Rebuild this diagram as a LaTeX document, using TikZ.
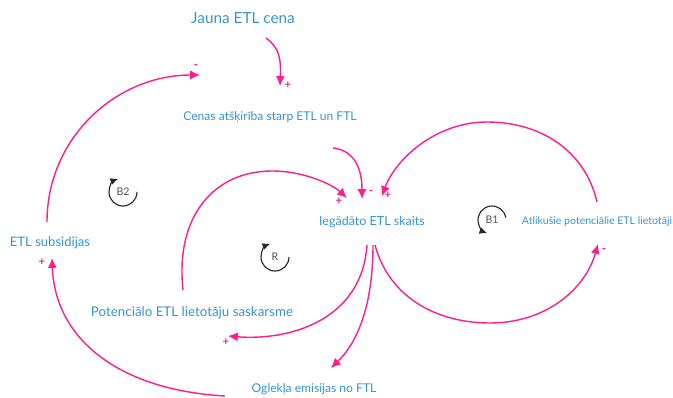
\documentclass[tikz,border=0pt]{standalone}
\usepackage{fontspec}
\setmainfont{Lato}
\usepackage{xcolor}
\usetikzlibrary{arrows.meta,positioning}

\definecolor{varblue}{HTML}{3494D2}
\definecolor{linkpink}{HTML}{FF1D8E}
\definecolor{loopgray}{HTML}{262626}

\tikzset{
  var/.style={text=varblue,inner sep=0pt},
  link/.style={draw=linkpink,line width=1pt,-{Latex[length=7pt,width=6.5pt]}},
  sign/.style={text=linkpink,inner sep=0pt,font=\fontsize{8}{9}\selectfont\bfseries},
  loopmark/.style={draw=loopgray,line width=0.8pt,-{Latex[length=5.5pt,width=5pt]}},
  looplabel/.style={text=loopgray!80,inner sep=0pt,font=\fontsize{7.5}{8}\selectfont},
}

\begin{document}
\begin{tikzpicture}[x=0.025cm,y=-0.025cm]
\useasboundingbox (0,0) rectangle (673,397);
% ---------- variables ----------
\node[var,font=\fontsize{10.9}{12}\selectfont] (jauna) at (243,18) {Jauna ETL cena};
\node[var,font=\fontsize{8.6}{10}\selectfont] (cenas) at (270,117) {Cenas atšķirība starp ETL un FTL};
\node[var,font=\fontsize{8.9}{10}\selectfont] (iegadato) at (372,222) {Iegādāto ETL skaits};
\node[var,font=\fontsize{7.5}{9}\selectfont] (atlikusie) at (597,222) {Atlikušie potenciālie ETL lietotāji};
\node[var,font=\fontsize{9.3}{10}\selectfont] (subsid) at (50,243) {ETL subsidijas};
\node[var,font=\fontsize{9.5}{11}\selectfont] (saskarsme) at (192,313) {Potenciālo ETL lietotāju saskarsme};
\node[var,font=\fontsize{8.6}{10}\selectfont] (oglekla) at (314,389) {Oglekļa emisijas no FTL};
% ---------- causal links ----------
\draw[link] ([shift={(23,20)}]jauna.center) .. controls +(14,10) and +(1,-26) .. ([shift={(10,-31)}]cenas.center);
\draw[link] ([shift={(-3,-21)}]subsid.center) .. controls +(0,-84) and +(-84,0) .. ([shift={(-70,-42)}]cenas.center);
\draw[link] ([shift={(63,31)}]cenas.center) .. controls +(19,2) and +(0,-34) .. ([shift={(-10,-23)}]iegadato.center);
\draw[link] ([shift={(-9,-23)}]saskarsme.center) .. controls +(-8,-75) and (215,171) .. (272,171)
  .. controls (305,171) and (333,185) .. ([shift={(-25,-24)}]iegadato.center);
\draw[link] ([shift={(0,-20)}]atlikusie.center) .. controls (585,150) and (540,122) .. (487,122)
  .. controls (435,122) and (395,160) .. ([shift={(10,-26)}]iegadato.center);
\draw[link] ([shift={(3,23)}]iegadato.center) .. controls (390,300) and (440,323) .. (490,323)
  .. controls (545,323) and (585,290) .. ([shift={(1,22)}]atlikusie.center);
\draw[link] ([shift={(-5,23)}]iegadato.center) .. controls +(-5,75) and +(62,5) .. ([shift={(36,23)}]saskarsme.center);
\draw[link] ([shift={(1,23)}]iegadato.center) .. controls +(0,55) and +(29,-28) .. ([shift={(17,-21)}]oglekla.center);
\draw[link] ([shift={(-89,7)}]oglekla.center) .. controls +(-105,-6) and +(3,82) .. ([shift={(2,15)}]subsid.center);
% ---------- polarities ----------
\node[sign] (s1) at (288,85) {+};
\node[sign] (s2) at (196,67) {-};
\node[sign] (s3) at (371,193) {-};
\node[sign] (s4) at (339,201) {+};
\node[sign] (s5) at (388,195) {+};
\node[sign] (s6) at (604,251) {-};
\node[sign] (s7) at (226,342) {+};
\node[sign] (s8) at (42,262) {+};
% ---------- loop markers ----------
\node[looplabel] (btwo) at (123,192) {B2};
\node[looplabel] (rloop) at (275,257) {R};
\node[looplabel] (bone) at (492,220) {B1};
\draw[loopmark] (btwo) ++(0:0.35cm) arc[start angle=0,end angle=-250,radius=0.35cm];
\draw[loopmark] (rloop) ++(0:0.35cm) arc[start angle=0,end angle=-250,radius=0.35cm];
\draw[loopmark] (bone) ++(10:0.35cm) arc[start angle=10,end angle=250,radius=0.35cm];
\end{tikzpicture}
\end{document}
